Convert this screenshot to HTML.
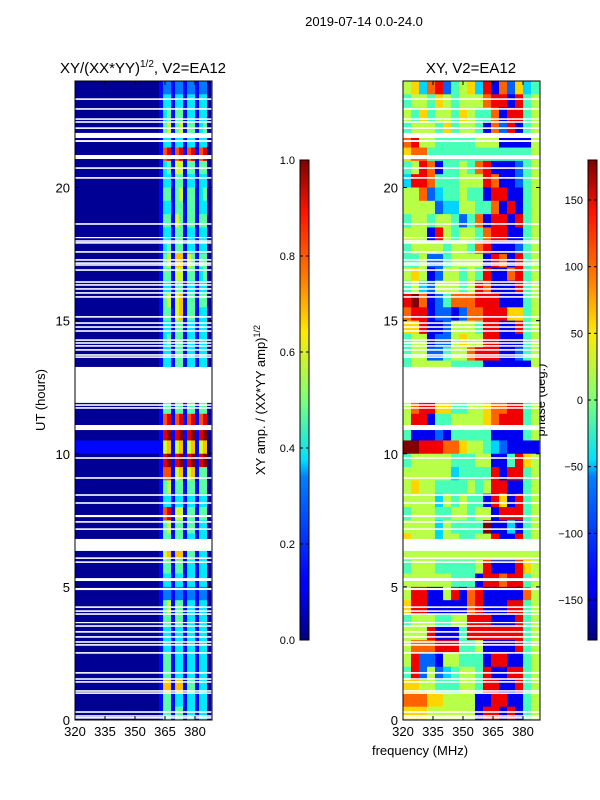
<!DOCTYPE html>
<html><head><meta charset="utf-8">
<style>
html,body{margin:0;padding:0;background:#fff;}
svg{display:block;font-family:"Liberation Sans",sans-serif;}
</style></head>
<body>
<svg id="fig" width="600" height="800" viewBox="0 0 600 800">
<defs>
<linearGradient id="jetGrad" x1="0" y1="1" x2="0" y2="0">
<stop offset="0" stop-color="#00007f"/><stop offset="0.11" stop-color="#0000ff"/>
<stop offset="0.125" stop-color="#0000ff"/><stop offset="0.34" stop-color="#0080ff"/>
<stop offset="0.375" stop-color="#00e0ff"/><stop offset="0.5" stop-color="#7dff7a"/>
<stop offset="0.64" stop-color="#ffea00"/><stop offset="0.75" stop-color="#ff8000"/>
<stop offset="0.89" stop-color="#ff1400"/><stop offset="1" stop-color="#7f0000"/>
</linearGradient>
</defs>
<text x="364" y="26" font-size="13" text-anchor="middle">2019-07-14 0.0-24.0</text>
<text x="143" y="73" font-size="15" text-anchor="middle">XY/(XX*YY)<tspan font-size="10" dy="-6">1/2</tspan><tspan dy="6">, V2=EA12</tspan></text>
<text x="471" y="73" font-size="15" text-anchor="middle">XY, V2=EA12</text>
<text transform="translate(45,400) rotate(-90)" font-size="13" text-anchor="middle">UT (hours)</text>
<text x="420" y="755" font-size="13" text-anchor="middle">frequency (MHz)</text>
<text transform="translate(265,400) rotate(-90)" font-size="13" text-anchor="middle">XY amp. / (XX*YY amp)<tspan font-size="9" dy="-5">1/2</tspan></text>
<text transform="translate(545,400) rotate(-90)" font-size="13" text-anchor="middle">phase (deg.)</text>
<g id="left"></g>
<g id="right"></g>
<g id="cbars"></g>
</svg>
<script>
// ---- data ----
const freqMin = 320, freqMax = 388.5;
const timeMin = 0, timeMax = 24;
const freqTicks = [320, 335, 350, 365, 380];
const timeTicks = [0, 5, 10, 15, 20];
const ampTicks = [0.0, 0.2, 0.4, 0.6, 0.8, 1.0];
const phaseTicks = [-150, -100, -50, 0, 50, 100, 150];
// amplitude: low band (320-362 MHz) level per row (top=23.75h ... bottom=0.25h), digit d -> d/9
const ampLowBand = "000000000000000000000000000100000000000000000000";
// amplitude: 2-MHz bins from 362 to 388 MHz
const ampStripes = [
"1221221221220","1331331331330","1341441331330","1451451441340",
"1331331331330","1781781781780","1341551441440","1331441331330",
"1441451441340","1331441441330","1441541441440","1331441331330",
"1341441331330","1451661541440","1441551441340","1331441331330",
"1451561441440","1441561441330","1331441331330","1341441331330",
"1331441331330","1331441331330","1331441331330","1331441331330",
"1441441441440","1781781781780","1891891891890","1561561561560",
"1891891891890","1771561561440","1451441441440","1331331331330",
"1781551441440","1451441441330","1441441331330","1561661441330",
"1441441331330","1331331331330","1221221221220","1451441331330",
"1441441331330","1331331331330","1331331331330","1441331331330",
"1441331331330","1661661441330","1441331331330","1441441331330"];
// phase: 4-MHz bins 320-388, digit d -> -180 + d*40
const phaseRows = [
"56378245638172634","45546545557881845","54645546544718845","45554645541728145",
"78554444455511115","67744444444444445","45871445478111245","38874445558711245",
"55723445441881145","55552335544718145","45545542471881845","55518545547881145",
"45555455478111245","44522455551871845","56512554548117845","45325554587111845",
"89712477788811145","78812212778886645","66811255548811845","45512256558811145",
"45522455788811245","45555544441111115","45555555555555555","45555555555555555",
"57886644556778845","58814455556788845","41112144444111145","99888776554321111",
"45555544455114865","55555534444818845","56554444545881145","55553545441861845",
"45554455455188845","55553544449113145","65553554455811845","55555555555555555",
"45554444458111865","55555544418878845","58811581781111175","68811111781118845",
"45554455888111845","55581114888888845","57778884451111845","58221554441881145",
"48252345548118845","66554445548811845","77766555511881145","66655555518818145"];
// flagged (blank) time ranges, hours
const gapStart = [23.29,22.92,22.54,22.43,22.2,21.86,21.71,21.07,20.7,20.33,18.6,18.1,17.96,17.89,17.55,17.25,17.13,17.06,16.87,16.42,16.31,16.16,16.01,15.86,15.11,14.88,14.73,14.58,14.24,14.13,14.02,13.87,13.68,13.6,11.91,11.8,11.69,10.89,9.81,9.06,8.42,8.12,7.62,7.41,7.14,6.35,6.05,5.9,5.22,4.88,4.21,4.06,3.95,3.64,3.5,3.28,3.09,2.9,2.79,2.49,1.74,1.51,1.4,1.06,0.98,0.27,0.12,0.05];
const gapEnd   = [23.35,22.98,22.6,22.49,22.26,22.05,21.78,21.22,20.76,20.39,18.66,18.14,18.02,17.95,17.61,17.31,17.19,17.12,16.93,16.48,16.37,16.22,16.07,15.92,15.17,14.94,14.79,14.64,14.3,14.19,14.08,13.93,13.74,13.66,13.26,11.86,11.75,11.08,9.87,9.12,8.48,8.18,7.7,7.47,7.2,6.8,6.11,5.96,5.33,4.96,4.27,4.12,4.01,3.68,3.56,3.34,3.15,2.96,2.85,2.55,1.8,1.57,1.46,1.12,1.04,0.33,0.18,0.11];

// ---- helpers ----
const NS = "http://www.w3.org/2000/svg";
function mk(tag, attrs, parent){ const e=document.createElementNS(NS,tag); for(const k in attrs) e.setAttribute(k,attrs[k]); parent.appendChild(e); return e; }
function jet(t){ t=Math.max(0,Math.min(1,t));
  const c=x=>Math.round(255*Math.max(0,Math.min(1,x)));
  const r=1.5-Math.abs(4*t-3), g=1.5-Math.abs(4*t-2), b=1.5-Math.abs(4*t-1);
  return `rgb(${c(r)},${c(g)},${c(b)})`; }
const panels = [{id:"left",x0:75,x1:212},{id:"right",x0:403,x1:540}];
const yTop=81, yBot=720;
const yScale = h => yBot - (h-timeMin)/(timeMax-timeMin)*(yBot-yTop);
function xScaleFor(p){ return f => p.x0 + (f-freqMin)/(freqMax-freqMin)*(p.x1-p.x0); }

// ---- amplitude panel ----
(function(){
  const p=panels[0], g=document.getElementById("left"), xs=xScaleFor(p);
  const n=ampStripes.length, dh=(timeMax-timeMin)/n;
  for(let r=0;r<n;r++){
    const hTop=timeMax-r*dh, hBot=hTop-dh;
    const y=yScale(hTop), h=yScale(hBot)-y;
    const low=mk("rect",{x:xs(320),y:y,width:xs(362)-xs(320),height:h+0.5,fill:jet(+ampLowBand[r]/9+0.02)},g);
    
    
    const s=ampStripes[r];
    for(let c=0;c<s.length;c++){
      const f0=362+2*c, f1=Math.min(freqMax,f0+2);
      if(f0>=freqMax) break;
      const cell=mk("rect",{x:xs(f0),y:y,width:xs(f1)-xs(f0)+0.3,height:h+0.5,fill:jet(+s[c]/9+0.02)},g);
      
      
    }
  }
})();
// ---- phase panel ----
(function(){
  const p=panels[1], g=document.getElementById("right"), xs=xScaleFor(p);
  const n=phaseRows.length, dh=(timeMax-timeMin)/n;
  for(let r=0;r<n;r++){
    const hTop=timeMax-r*dh, hBot=hTop-dh;
    const y=yScale(hTop), h=yScale(hBot)-y;
    const s=phaseRows[r];
    for(let c=0;c<s.length;c++){
      const f0=320+4*c, f1=Math.min(freqMax,f0+4);
      if(f0>=freqMax) break;
      const v=-180+(+s[c])*40;
      const cell=mk("rect",{x:xs(f0),y:y,width:xs(f1)-xs(f0)+0.3,height:h+0.5,fill:jet((v+180)/360)},g);
      
      
    }
  }
})();
// ---- gaps, frames, ticks ----
panels.forEach((p,pi)=>{
  const g=document.getElementById(p.id), xs=xScaleFor(p);
  for(let i=0;i<gapStart.length;i++){
    const y=yScale(gapEnd[i]), h=Math.max(1.2,yScale(gapStart[i])-y);
    const gr=mk("rect",{x:p.x0,y:y,width:p.x1-p.x0,height:h,fill:"#fff"},g);
    
    
  }
  const fr=mk("rect",{x:p.x0,y:yTop,width:p.x1-p.x0,height:yBot-yTop,fill:"none",stroke:"#000","stroke-width":1},g);
  
  
  freqTicks.forEach(f=>{
    const x=xs(f);
    mk("line",{x1:x,y1:yBot,x2:x,y2:yBot-4,stroke:"#000"},g);
    mk("line",{x1:x,y1:yTop,x2:x,y2:yTop+4,stroke:"#000"},g);
    const t=mk("text",{x:x,y:yBot+16,"font-size":13,"text-anchor":"middle"},g);
    t.textContent=f;
    
    
  });
  timeTicks.forEach(h=>{
    const y=yScale(h);
    mk("line",{x1:p.x0,y1:y,x2:p.x0+4,y2:y,stroke:"#000"},g);
    mk("line",{x1:p.x1,y1:y,x2:p.x1-4,y2:y,stroke:"#000"},g);
    const t=mk("text",{x:p.x0-5,y:y+5,"font-size":13,"text-anchor":"end"},g);
    t.textContent=h;
    
    
  });
});
// ---- colorbars ----
(function(){
  const g=document.getElementById("cbars");
  const cbTop=160, cbBot=640;
  const bars=[{x:300,ticks:ampTicks,min:0,max:1,fmt:v=>v.toFixed(1),name:'amp-colorbar'},
              {x:588,ticks:phaseTicks,min:-180,max:180,fmt:v=>v.toString().replace('-','\u2212'),name:'phase-colorbar'}];
  bars.forEach(b=>{
    const r=mk("rect",{x:b.x,y:cbTop,width:9,height:cbBot-cbTop,fill:"url(#jetGrad)",stroke:"#000","stroke-width":1},g);
    
    
    b.ticks.forEach(v=>{
      const y=cbBot-(v-b.min)/(b.max-b.min)*(cbBot-cbTop);
      mk("line",{x1:b.x,y1:y,x2:b.x+3,y2:y,stroke:"#000"},g);
      mk("line",{x1:b.x+9,y1:y,x2:b.x+6,y2:y,stroke:"#000"},g);
      const t=mk("text",{x:b.x-5,y:y+4,"font-size":11,"text-anchor":"end"},g);
      t.textContent=b.fmt(v);
      
      
    });
  });
})();
</script>
</body></html>
